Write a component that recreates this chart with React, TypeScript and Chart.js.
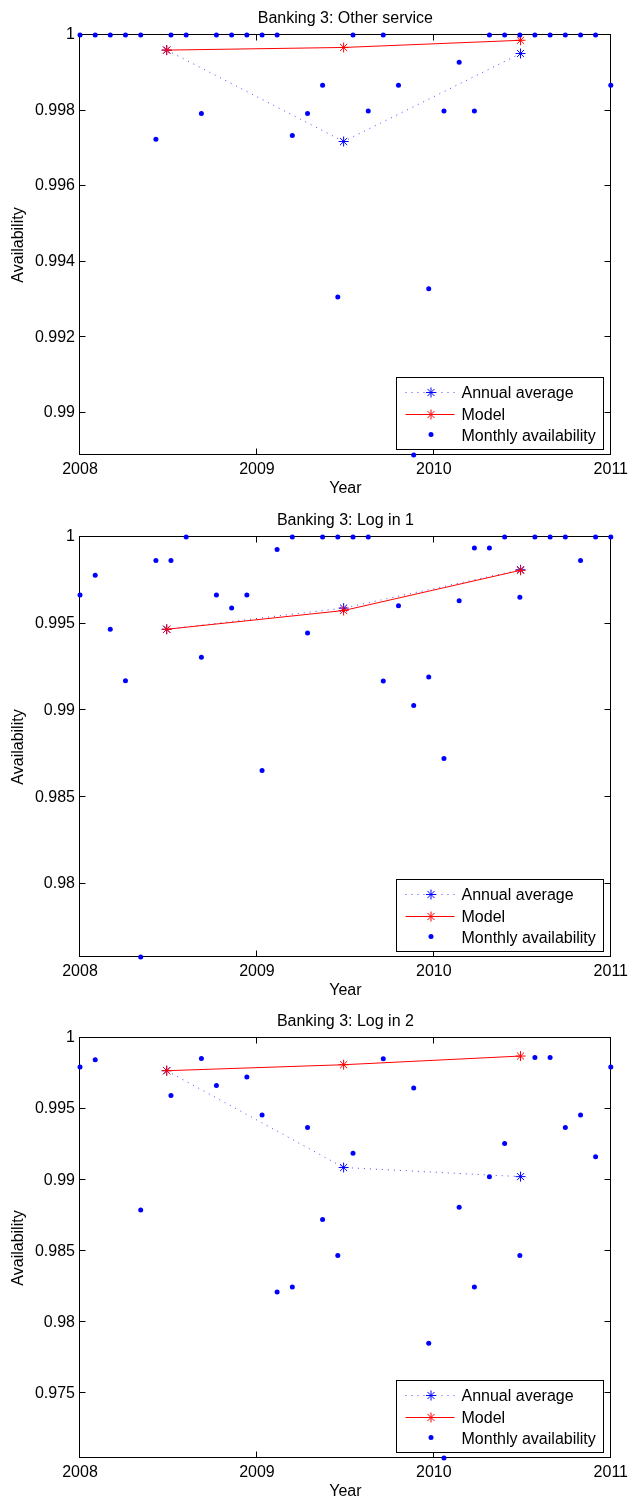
import React, { useEffect, useRef } from 'react';
import { Chart, registerables } from 'chart.js';

Chart.register(...registerables);

// ---------- data ----------
const MONTHS = [
  2008.0, 2008.086, 2008.171, 2008.257, 2008.343, 2008.429, 2008.514, 2008.6, 2008.686, 2008.771, 2008.857, 2008.943,
  2009.029, 2009.114, 2009.2, 2009.286, 2009.371, 2009.457, 2009.543, 2009.629, 2009.714, 2009.8, 2009.886, 2009.971,
  2010.057, 2010.143, 2010.229, 2010.314, 2010.4, 2010.486, 2010.571, 2010.657, 2010.743, 2010.829, 2010.914, 2011.0,
];
const YEARS = [2008.49, 2009.49, 2010.49];
const X_TICKS = [2008, 2009, 2010, 2011];
const X_LABELS = ['2008', '2009', '2010', '2011'];

const P1_TITLE = 'Banking 3: Other service';
const P1_MONTHLY = [
  1, 1, 1, 1, 1, 0.99724, 1, 1, 0.99792, 1, 1, 1,
  1, 1, 0.99734, 0.99792, 0.99867, 0.99306, 1, 0.99799, 1, 0.99867, 0.98888, 0.99328,
  0.99799, 0.99928, 0.99799, 1, 1, 1, 1, 1, 1, 1, 1, 0.99867,
];
const P1_ANNUAL = [0.9996, 0.99718, 0.99951];
const P1_MODEL = [0.9996, 0.99967, 0.99986];
const P1_Y_MIN = 0.98888;
const P1_Y_MAX = 1;
const P1_Y_TICKS = [0.99, 0.992, 0.994, 0.996, 0.998, 1];
const P1_Y_LABELS = ['0.99', '0.992', '0.994', '0.996', '0.998', '1'];

const P2_TITLE = 'Banking 3: Log in 1';
const P2_MONTHLY = [
  0.99666, 0.9978, 0.99468, 0.99171, 0.97578, 0.99865, 0.99865, 1, 0.99306, 0.99666, 0.9959, 0.99666,
  0.98653, 0.99928, 1, 0.99447, 1, 1, 1, 1, 0.99169, 0.99603, 0.99029, 0.99193,
  0.98723, 0.99632, 0.99936, 0.99936, 1, 0.99653, 1, 1, 1, 0.99865, 1, 1,
];
const P2_ANNUAL = [0.99468, 0.9959, 0.99811];
const P2_MODEL = [0.99468, 0.99576, 0.99808];
const P2_Y_MIN = 0.97578;
const P2_Y_MAX = 1;
const P2_Y_TICKS = [0.98, 0.985, 0.99, 0.995, 1];
const P2_Y_LABELS = ['0.98', '0.985', '0.99', '0.995', '1'];

const P3_TITLE = 'Banking 3: Log in 2';
const P3_MONTHLY = [
  0.99796, 0.99847, null, null, 0.9879, null, 0.99596, null, 0.99856, 0.99666, null, 0.99725,
  0.99458, 0.98213, 0.98248, 0.9937, 0.98723, 0.9847, 0.9919, null, 0.99854, null, 0.99648, 0.97853,
  0.97046, 0.9881, 0.98248, 0.99025, 0.99258, 0.9847, 0.99863, 0.99863, 0.9937, 0.99458, 0.99164, 0.99796,
];
const P3_ANNUAL = [0.9977, 0.99089, 0.99025];
const P3_MODEL = [0.9977, 0.99812, 0.99873];
const P3_Y_MIN = 0.97046;
const P3_Y_MAX = 1;
const P3_Y_TICKS = [0.975, 0.98, 0.985, 0.99, 0.995, 1];
const P3_Y_LABELS = ['0.975', '0.98', '0.985', '0.99', '0.995', '1'];

const SERIES_LABELS = ['Annual average', 'Model', 'Monthly availability'];
const X_TITLE = 'Year';
const Y_TITLE = 'Availability';

// ---------- styles ----------
const FONT = "'Liberation Sans', Arial, Helvetica, sans-serif";
const BLUE = '#0000ff';
const DOT_BLUE = 'rgba(40,40,255,0.85)';
const RED = '#ff0000';
const W = 633;
const H = 498;

type PanelProps = {
  top: number;
  title: string;
  monthly: (number | null)[];
  annual: number[];
  model: number[];
  yMin: number;
  yMax: number;
  yTicks: number[];
  yLabels: string[];
};

function drawStar(ctx: CanvasRenderingContext2D, x: number, y: number, r: number, color: string) {
  ctx.save();
  ctx.strokeStyle = color;
  ctx.lineWidth = 1;
  ctx.setLineDash([]);
  ctx.beginPath();
  ctx.moveTo(x - r, y);
  ctx.lineTo(x + r, y);
  ctx.moveTo(x, y - r);
  ctx.lineTo(x, y + r);
  const d = r * Math.SQRT1_2;
  ctx.moveTo(x - d, y - d);
  ctx.lineTo(x + d, y + d);
  ctx.moveTo(x - d, y + d);
  ctx.lineTo(x + d, y - d);
  ctx.stroke();
  ctx.restore();
}

function Panel(p: PanelProps) {
  const ref = useRef<HTMLCanvasElement>(null);
  useEffect(() => {
    const canvas = ref.current!;
    const framePlugin = {
      id: 'matlabFrame',
      beforeDatasetsDraw(chart: any) {
        const { ctx, chartArea: a, scales } = chart;
        ctx.save();
        ctx.strokeStyle = '#000';
        ctx.lineWidth = 1;
        const L = Math.round(a.left) - 0.5;
        const R = Math.round(a.right) - 0.5;
        const T = Math.round(a.top) - 0.5;
        const B = Math.round(a.bottom) - 0.5;
        ctx.strokeRect(L, T, R - L, B - T);
        ctx.beginPath();
        for (const v of p.yTicks) {
          const py = Math.round(scales.y.getPixelForValue(v)) - 0.5;
          if (py <= T + 1 || py >= B - 1) continue;
          ctx.moveTo(L, py);
          ctx.lineTo(L + 6, py);
          ctx.moveTo(R, py);
          ctx.lineTo(R - 6, py);
        }
        for (const v of X_TICKS) {
          const px = Math.round(scales.x.getPixelForValue(v)) - 0.5;
          if (px <= L + 1 || px >= R - 1) continue;
          ctx.moveTo(px, B);
          ctx.lineTo(px, B - 6);
          ctx.moveTo(px, T);
          ctx.lineTo(px, T + 6);
        }
        ctx.stroke();
        ctx.restore();
      },
      afterDraw(chart: any) {
        const { ctx, chartArea: a } = chart;
        ctx.save();
        // title
        ctx.fillStyle = '#000';
        ctx.font = `16px ${FONT}`;
        ctx.textAlign = 'center';
        ctx.textBaseline = 'alphabetic';
        ctx.fillText(p.title, (a.left + a.right) / 2, a.top - 12);
        // legend
        const lx0 = Math.round(a.right - 8) - 207 + 0.5;
        const lx1 = Math.round(a.right - 8) + 0.5;
        const ly0 = Math.round(a.bottom - 6) - 72 + 0.5;
        const ly1 = Math.round(a.bottom - 6) + 0.5;
        ctx.fillStyle = '#fff';
        ctx.fillRect(lx0, ly0, lx1 - lx0, ly1 - ly0);
        ctx.strokeStyle = '#000';
        ctx.lineWidth = 1;
        ctx.strokeRect(lx0, ly0, lx1 - lx0, ly1 - ly0);
        const rows = [ly0 + 14, ly0 + 36, ly0 + 57];
        const sx0 = lx0 + 9;
        const sx1 = lx0 + 58;
        const mx = lx0 + 34.5;
        const tx = lx0 + 65;
        const ds = chart.data.datasets;
        // annual
        ctx.strokeStyle = DOT_BLUE;
        ctx.setLineDash([1, 5]);
        ctx.beginPath();
        ctx.moveTo(sx0, Math.round(rows[0]) + 0.5);
        ctx.lineTo(sx1, Math.round(rows[0]) + 0.5);
        ctx.stroke();
        ctx.setLineDash([]);
        drawStar(ctx, mx, Math.round(rows[0]) + 0.5, 5, BLUE);
        // model
        ctx.strokeStyle = RED;
        ctx.beginPath();
        ctx.moveTo(sx0, Math.round(rows[1]) + 0.5);
        ctx.lineTo(sx1, Math.round(rows[1]) + 0.5);
        ctx.stroke();
        drawStar(ctx, mx, Math.round(rows[1]) + 0.5, 5, RED);
        // monthly
        ctx.fillStyle = BLUE;
        ctx.beginPath();
        ctx.arc(mx, rows[2], 2.5, 0, Math.PI * 2);
        ctx.fill();
        ctx.fillStyle = '#000';
        ctx.textAlign = 'left';
        ctx.font = `16px ${FONT}`;
        for (let i = 0; i < 3; i++) {
          ctx.fillText(ds[i].label, tx, rows[i] + 6);
        }
        ctx.restore();
      },
    };

    const chart = new Chart(canvas, {
      type: 'scatter',
      data: {
        datasets: [
          {
            label: SERIES_LABELS[0],
            data: YEARS.map((x, i) => ({ x, y: p.annual[i] })),
            showLine: true,
            borderColor: DOT_BLUE,
            borderWidth: 1,
            borderDash: [1, 5],
            pointStyle: 'star',
            pointRadius: 5,
            pointBorderColor: BLUE,
            pointBackgroundColor: BLUE,
            pointBorderWidth: 1,
            order: 3,
            clip: false,
          } as any,
          {
            label: SERIES_LABELS[1],
            data: YEARS.map((x, i) => ({ x, y: p.model[i] })),
            showLine: true,
            borderColor: RED,
            borderWidth: 1,
            pointStyle: 'star',
            pointRadius: 5,
            pointBorderColor: RED,
            pointBackgroundColor: RED,
            pointBorderWidth: 1,
            order: 2,
            clip: false,
          } as any,
          {
            label: SERIES_LABELS[2],
            data: MONTHS.map((x, i) => ({ x, y: p.monthly[i] })),
            showLine: false,
            pointStyle: 'circle',
            pointRadius: 2.5,
            pointBackgroundColor: BLUE,
            pointBorderColor: BLUE,
            pointBorderWidth: 0,
            order: 1,
            clip: false,
          } as any,
        ],
      },
      options: {
        animation: false,
        responsive: false,
        devicePixelRatio: 1,
        events: [],
        layout: { padding: { top: 35, right: 21, bottom: 0, left: 0 }, autoPadding: false },
        plugins: {
          legend: { display: false },
          title: { display: false },
          tooltip: { enabled: false },
        },
        scales: {
          x: {
            type: 'linear',
            min: 2008,
            max: 2011,
            grid: { display: false, drawTicks: false },
            border: { display: false },
            afterBuildTicks: (axis: any) => {
              axis.ticks = X_TICKS.map((v) => ({ value: v }));
            },
            afterFit: (scale: any) => {
              scale.height = 43;
            },
            ticks: {
              autoSkip: false,
              maxRotation: 0,
              padding: 5,
              color: '#000',
              font: { family: FONT, size: 16 },
              callback: (v: any) => X_LABELS[X_TICKS.indexOf(Number(v))] ?? '',
            },
            title: {
              display: true,
              text: X_TITLE,
              color: '#000',
              font: { family: FONT, size: 16 },
              padding: { top: 0, bottom: 0 },
            },
          },
          y: {
            type: 'linear',
            min: p.yMin,
            max: p.yMax,
            grid: { display: false, drawTicks: false },
            border: { display: false },
            afterBuildTicks: (axis: any) => {
              axis.ticks = p.yTicks.map((v) => ({ value: v }));
            },
            afterFit: (scale: any) => {
              scale.width = 80;
            },
            ticks: {
              autoSkip: false,
              padding: 5,
              color: '#000',
              font: { family: FONT, size: 16 },
              callback: (v: any) => {
                const i = p.yTicks.findIndex((t) => Math.abs(t - Number(v)) < 1e-9);
                return i >= 0 ? p.yLabels[i] : '';
              },
            },
            title: {
              display: true,
              text: Y_TITLE,
              color: '#000',
              font: { family: FONT, size: 16 },
              padding: { top: 9, bottom: 0 },
            },
          },
        },
      } as any,
      plugins: [framePlugin],
    });
    return () => chart.destroy();
  }, []);
  return (
    <canvas
      ref={ref}
      width={W}
      height={H}
      style={{ position: 'absolute', left: 0, top: p.top, width: W, height: H, display: 'block' }}
    />
  );
}

export default function App() {
  return (
    <div style={{ position: 'absolute', left: 0, top: 0, width: 633, height: 1501, background: '#fff' }}>
      <Panel top={0} title={P1_TITLE} monthly={P1_MONTHLY} annual={P1_ANNUAL} model={P1_MODEL}
        yMin={P1_Y_MIN} yMax={P1_Y_MAX} yTicks={P1_Y_TICKS} yLabels={P1_Y_LABELS} />
      <Panel top={502} title={P2_TITLE} monthly={P2_MONTHLY} annual={P2_ANNUAL} model={P2_MODEL}
        yMin={P2_Y_MIN} yMax={P2_Y_MAX} yTicks={P2_Y_TICKS} yLabels={P2_Y_LABELS} />
      <Panel top={1003} title={P3_TITLE} monthly={P3_MONTHLY} annual={P3_ANNUAL} model={P3_MODEL}
        yMin={P3_Y_MIN} yMax={P3_Y_MAX} yTicks={P3_Y_TICKS} yLabels={P3_Y_LABELS} />
    </div>
  );
}
